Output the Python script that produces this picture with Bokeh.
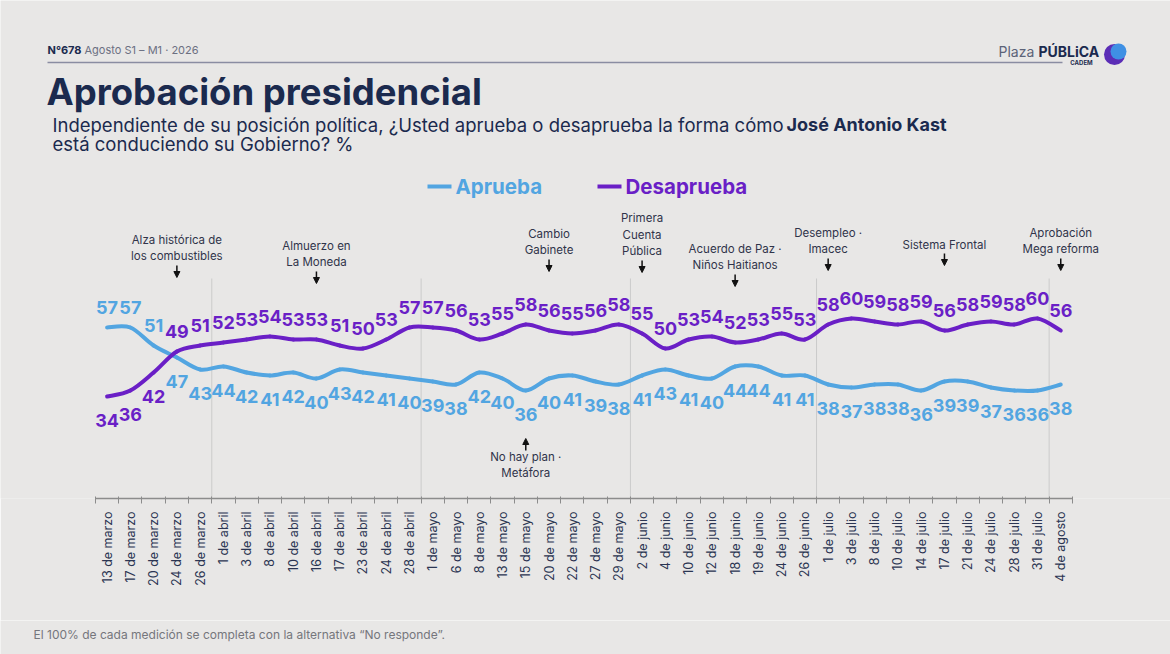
import numpy as np
from bokeh.plotting import figure
from bokeh.layouts import column
from bokeh.models import Range1d, FixedTicker, Arrow, NormalHead, ColumnDataSource
from bokeh.core.properties import value
from bokeh.embed import file_html
from bokeh.resources import INLINE

# ---------------- data ----------------
dates = [
    "13 de marzo", "17 de marzo", "20 de marzo", "24 de marzo", "26 de marzo",
    "1 de abril", "3 de abril", "8 de abril", "10 de abril", "16 de abril",
    "17 de abril", "23 de abril", "24 de abril", "28 de abril",
    "1 de mayo", "6 de mayo", "8 de mayo", "13 de mayo", "15 de mayo",
    "20 de mayo", "22 de mayo", "27 de mayo", "29 de mayo",
    "2 de junio", "4 de junio", "10 de junio", "12 de junio", "18 de junio",
    "19 de junio", "24 de junio", "26 de junio",
    "1 de julio", "3 de julio", "8 de julio", "10 de julio", "14 de julio",
    "17 de julio", "21 de julio", "24 de julio", "28 de julio", "31 de julio",
    "4 de agosto",
]
aprueba = [57, 57, 51, 47, 43,
           44, 42, 41, 42, 40, 43, 42, 41, 40,
           39, 38, 42, 40, 36, 40, 41, 39, 38,
           41, 43, 41, 40, 44, 44, 41, 41,
           38, 37, 38, 38, 36, 39, 39, 37, 36, 36,
           38]
desaprueba = [34, 36, 42, 49, 51,
              52, 53, 54, 53, 53, 51, 50, 53, 57,
              57, 56, 53, 55, 58, 56, 55, 56, 58,
              55, 50, 53, 54, 52, 53, 55, 53,
              58, 60, 59, 58, 59, 56, 58, 59, 58, 60,
              56]
event_dates = ["24 de marzo", "16 de abril", "20 de mayo", "2 de junio",
               "18 de junio", "1 de julio", "17 de julio", "4 de agosto"]
event_texts = ["Alza histórica de\nlos combustibles", "Almuerzo en\nLa Moneda",
               "Cambio\nGabinete", "Primera\nCuenta\nPública",
               "Acuerdo de Paz ·\nNiños Haitianos", "Desempleo ·\nImacec",
               "Sistema Frontal", "Aprobación\nMega reforma"]
below_event_date = "15 de mayo"
below_event_text = "No hay plan ·\nMetáfora"
footnote = "El 100% de cada medición se completa con la alternativa “No responde”."

# ---------------- style ----------------
BG = "#E8E7E6"
BLUE = "#52A5E1"
PURPLE = "#6A1FC6"
NAVY = "#1B2A4E"
ANN = "#30344A"
FONT = "Inter"
event_last_line_y = [256, 262, 250, 251, 265, 249, 244, 249]  # pixel rows of last text line

W, H = 1170, 654
MAIN_H = 620
AXIS_Y = 498          # pixel row of the axis line
STEP = 23.26          # px per category
X0 = 106.6            # pixel column of first category
PXU = 3.0             # px per percentage unit


def X(px):  # pixel column -> data x
    return (px - X0) / STEP


def Y(py):  # pixel row -> data y
    return (AXIS_Y - py) / PXU


n = len(dates)
idx = np.arange(n)

p = figure(width=W, height=MAIN_H, x_range=Range1d(X(0), X(W)),
           y_range=Range1d(0, AXIS_Y / PXU),
           output_backend="svg", toolbar_location=None, y_axis_location=None,
           min_border_left=0, min_border_right=0, min_border_top=0,
           min_border_bottom=MAIN_H - AXIS_Y,
           background_fill_color=BG, border_fill_color=BG, outline_line_color=None)
p.grid.visible = False

ax = p.xaxis[0]
ax.ticker = FixedTicker(ticks=list(range(n)), minor_ticks=[i - 0.5 for i in range(n + 1)])
ax.major_label_overrides = {i: d for i, d in enumerate(dates)}
ax.major_label_orientation = np.pi / 2
ax.bounds = (-0.5, n - 0.5)
ax.major_tick_line_color = None
ax.minor_tick_in = 2
ax.minor_tick_out = 5
ax.minor_tick_line_color = "#8C8C8C"
ax.axis_line_color = "#8C8C8C"
ax.axis_line_width = 1.5
ax.major_label_text_font = FONT
ax.major_label_text_font_size = "12.5px"
ax.major_label_text_color = "#2B3552"
ax.major_label_standoff = 7

# month separators
months = [d.split(" de ")[1] for d in dates]
breaks = [i + 0.5 for i in range(n - 1) if months[i] != months[i + 1]]
p.segment(x0=breaks, y0=[Y(278)] * len(breaks), x1=breaks, y1=[0] * len(breaks),
          line_color="#CBCBCB", line_width=1)


# smooth lines (Catmull-Rom as cubic Bezier)
def bez(vals):
    y = np.asarray(vals, float)
    xp = np.concatenate([[0], idx, [n - 1]]).astype(float)
    yp = np.concatenate([[y[0]], y, [y[-1]]])
    i = np.arange(n - 1)
    return dict(x0=xp[i + 1], y0=yp[i + 1], x1=xp[i + 2], y1=yp[i + 2],
                cx0=xp[i + 1] + (xp[i + 2] - xp[i]) / 6, cy0=yp[i + 1] + (yp[i + 2] - yp[i]) / 6,
                cx1=xp[i + 2] - (xp[i + 3] - xp[i + 1]) / 6, cy1=yp[i + 2] - (yp[i + 3] - yp[i + 1]) / 6)


p.bezier(**bez(aprueba), line_color=BLUE, line_width=4, line_cap="round")
p.bezier(**bez(desaprueba), line_color=PURPLE, line_width=4, line_cap="round")

# value labels
for vals, other, col in [(aprueba, desaprueba, BLUE), (desaprueba, aprueba, PURPLE)]:
    offs = [-20 if v > o else 24 for v, o in zip(vals, other)]
    src = ColumnDataSource(dict(x=idx, y=vals, t=[str(v) for v in vals], off=offs))
    p.text(x="x", y="y", text="t", y_offset="off", source=src, text_color=col,
           text_font=value(FONT), text_font_style="bold", text_font_size="18px",
           text_align="center", text_baseline="middle")

# event annotations
for d, t, ly in zip(event_dates, event_texts, event_last_line_y):
    ex = dates.index(d)
    p.text(x=[ex], y=[Y(ly + 7)], text=[t], text_color=ANN, text_font=value(FONT),
           text_font_size="11.5px", text_align="center", text_baseline="bottom",
           text_line_height=1.2)
    p.add_layout(Arrow(end=NormalHead(size=6, fill_color="#111111", line_color="#111111"),
                       x_start=ex, y_start=Y(ly + 9), x_end=ex, y_end=Y(ly + 21),
                       line_color="#111111", line_width=1.5))
bx = dates.index(below_event_date)
p.add_layout(Arrow(end=NormalHead(size=6, fill_color="#111111", line_color="#111111"),
                   x_start=bx, y_start=Y(450), x_end=bx, y_end=Y(438),
                   line_color="#111111", line_width=1.5))
p.text(x=[bx], y=[Y(449)], text=[below_event_text], text_color=ANN, text_font=value(FONT),
       text_font_size="11.5px", text_align="center", text_baseline="top", text_line_height=1.2)

# header
p.text(x=[X(47)], y=[Y(49)], text=["N°678"], text_color=NAVY, text_font=value(FONT),
       text_font_style="bold", text_font_size="11px", text_baseline="middle")
p.text(x=[X(84)], y=[Y(49)], text=["Agosto S1 – M1 · 2026"], text_color="#6C7082",
       text_font=value(FONT), text_font_size="11px", text_baseline="middle")
p.segment(x0=[X(47)], y0=[Y(62)], x1=[X(1062)], y1=[Y(62)], line_color="#8A8DA2", line_width=1.5)
p.text(x=[X(46)], y=[Y(91)], text=["Aprobación presidencial"], text_color=NAVY,
       text_font=value(FONT), text_font_style="bold", text_font_size="36.5px",
       text_baseline="middle")
p.text(x=[X(52)], y=[Y(124)],
       text=["Independiente de su posición política, ¿Usted aprueba o desaprueba la forma cómo"],
       text_color=NAVY, text_font=value(FONT), text_font_size="18.5px", text_baseline="middle")
p.text(x=[X(786)], y=[Y(124)], text=["José Antonio Kast"], text_color=NAVY,
       text_font=value(FONT), text_font_style="bold", text_font_size="18px", text_baseline="middle")
p.text(x=[X(52)], y=[Y(143)], text=["está conduciendo su Gobierno? %"], text_color=NAVY,
       text_font=value(FONT), text_font_size="18.5px", text_baseline="middle")

# logo
p.text(x=[X(998)], y=[Y(51)], text=["Plaza"], text_color="#5C6378", text_font=value(FONT),
       text_font_size="14px", text_baseline="middle")
p.text(x=[X(1038)], y=[Y(51)], text=["PÚBLiCA"], text_color=NAVY, text_font=value(FONT),
       text_font_style="bold", text_font_size="14px", text_baseline="middle")
p.text(x=[X(1081)], y=[Y(62)], text=["CADEM"], text_color=NAVY, text_font=value(FONT),
       text_font_style="bold", text_font_size="6px", text_baseline="middle", text_align="center")
p.scatter(x=[X(1114)], y=[Y(54)], size=21, fill_color="#5B2DB6", line_color=None)
p.scatter(x=[X(1118)], y=[Y(51)], size=16, fill_color="#3F90E4", line_color=None)

# legend
for lx, tx, label, col in [(427, 455, "Aprueba", BLUE), (597, 625, "Desaprueba", PURPLE)]:
    p.segment(x0=[X(lx)], y0=[Y(186)], x1=[X(lx + 24)], y1=[Y(186)], line_color=col, line_width=4)
    p.text(x=[X(tx)], y=[Y(186)], text=[label], text_color=col, text_font=value(FONT),
           text_font_style="bold", text_font_size="20.5px", text_baseline="middle")

# footnote strip
FH = H - MAIN_H
f = figure(width=W, height=FH, x_range=Range1d(0, W), y_range=Range1d(FH, 0),
           output_backend="svg", toolbar_location=None, x_axis_location=None,
           y_axis_location=None, min_border=0, background_fill_color=BG,
           border_fill_color=BG, outline_line_color=None)
f.grid.visible = False
f.text(x=[33], y=[634 - MAIN_H], text=[footnote], text_color="#75767C",
       text_font=value(FONT), text_font_size="12px", text_baseline="middle")

open("out.html", "w").write(file_html(column(p, f, spacing=0), INLINE))
